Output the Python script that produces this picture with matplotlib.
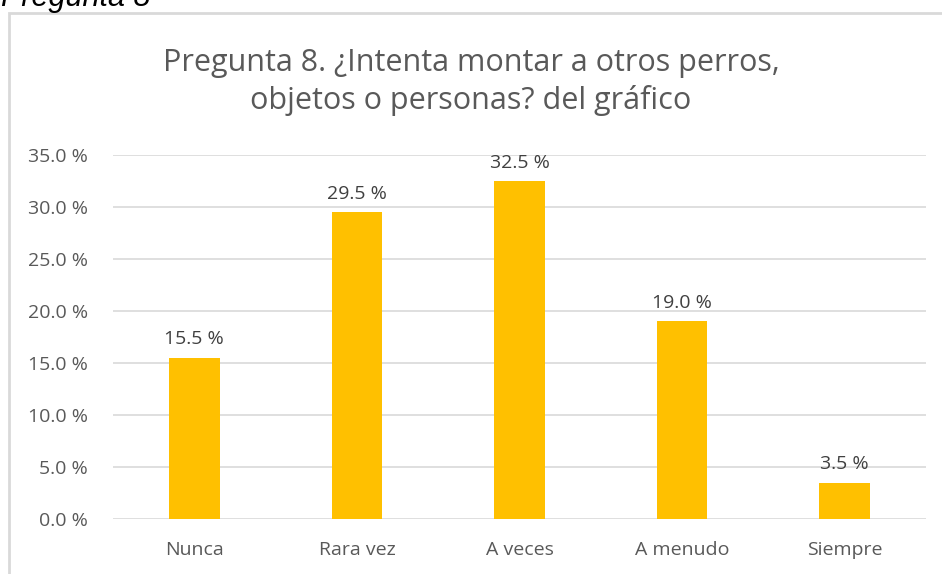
import matplotlib.pyplot as plt
from matplotlib.patches import Rectangle

categories = ['Nunca', 'Rara vez', 'A veces', 'A menudo', 'Siempre']
values = [15.5, 29.5, 32.5, 19.0, 3.5]
yticks = [0, 5, 10, 15, 20, 25, 30, 35]

plt.rcParams['font.family'] = ['Open Sans', 'DejaVu Sans']

fig = plt.figure(figsize=(9.42, 5.74), dpi=100)

# chart frame (cut off at right and bottom like the screenshot)
fig.patches.append(Rectangle((9 / 942, -0.1), 1.2, 1 - 13 / 574 + 0.1,
                             transform=fig.transFigure, fill=False,
                             edgecolor='#d9d9d9', linewidth=2))
fig.text(1 / 942, 1 - 6 / 574, 'Pregunta 8', fontsize=22, style='italic',
         family='Liberation Sans', va='baseline', ha='left', color='black')

ax = fig.add_axes([113 / 942, 1 - 519 / 574, 813 / 942, 364 / 574])
x = range(len(categories))
bars = ax.bar(x, values, width=0.31, color='#ffc000', zorder=3)
for xi, v in zip(x, values):
    ax.text(xi, v + 0.9, f'{v:.1f} %', ha='center', va='bottom',
            fontsize=14, color='#404040')

ax.set_xlim(-0.5, len(categories) - 0.5)
ax.set_ylim(0, 35)
ax.set_yticks(yticks)
ax.set_yticklabels([f'{t:.1f} %' for t in yticks])
ax.set_xticks(list(x))
ax.set_xticklabels(categories)
ax.tick_params(axis='both', length=0, labelsize=14, labelcolor='#595959')
ax.tick_params(axis='y', pad=18)
ax.tick_params(axis='x', pad=16)
ax.grid(axis='y', color='#d9d9d9', linewidth=1.2, zorder=0)
for s in ax.spines.values():
    s.set_visible(False)

fig.text(471 / 942, 1 - 82 / 574,
         'Pregunta 8. ¿Intenta montar a otros perros,\nobjetos o personas? del gráfico',
         ha='center', va='center', fontsize=22, color='#595959', linespacing=1.3)

fig.savefig('out.png', dpi=100)
